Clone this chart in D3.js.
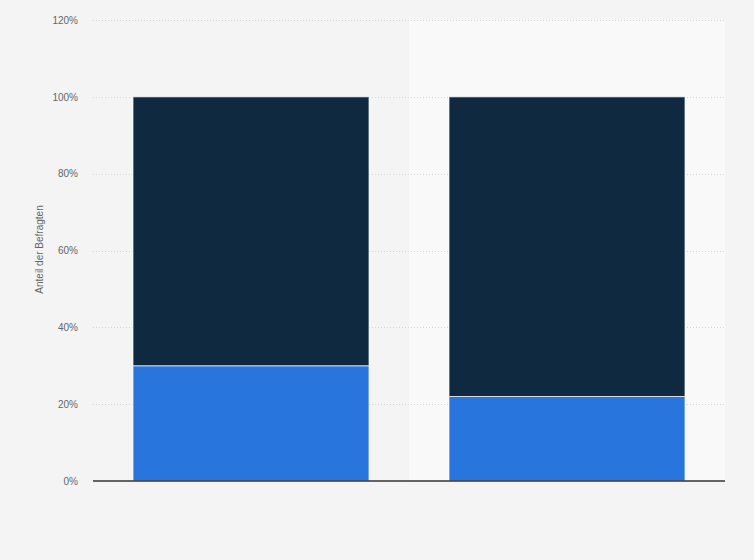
<!DOCTYPE html>
<html>
<head>
<meta charset="utf-8">
<script src="https://cdn.jsdelivr.net/npm/d3@7"></script>
<style>
  body { margin: 0; background: #f4f4f4; }
  svg { display: block; font-family: Arial, "Liberation Sans", sans-serif; }
  .axis text { fill: #666; font-size: 10px; }
</style>
</head>
<body>
<div class="chart"></div>
<script>
// data
const categories = ['A', 'B']
const seriesNames = ['Ja', 'Nein']
const bottomValues = [30, 22]
const topValues = [70, 78]
const tickValues = [0, 20, 40, 60, 80, 100, 120]
const seriesColors = ['#2876dd', '#0f2a40']

const svg_width = 754
const svg_height = 560
const margin = { top: 20, right: 29, bottom: 79, left: 93 }
const chart_width = svg_width - margin.left - margin.right
const chart_height = svg_height - margin.top - margin.bottom

const svg = d3.select('.chart').append('svg')
  .attr('width', svg_width).attr('height', svg_height)

const g = svg.append('g')
  .attr('transform', `translate(${margin.left}, ${margin.top})`)

const xScale = d3.scaleBand().domain(categories).range([0, chart_width])
  .paddingInner(0).paddingOuter(0)
const yScale = d3.scaleLinear([0, 120], [chart_height, 0])

// alternate band shading
g.append('g').selectAll('rect').data(categories).join('rect')
  .attr('x', d => xScale(d)).attr('y', 0)
  .attr('width', xScale.bandwidth()).attr('height', chart_height)
  .style('fill', (d, i) => i % 2 ? '#f9f9f9' : '#f4f4f4')

// grid lines
g.append('g').selectAll('line').data(tickValues.filter(d => d > 0)).join('line')
  .attr('x1', 0).attr('x2', chart_width)
  .attr('y1', d => Math.round(yScale(d)) + 0.5).attr('y2', d => Math.round(yScale(d)) + 0.5)
  .style('stroke', '#d6d6d6').style('stroke-dasharray', '1,2')

// stacked data
const rows = categories.map((c, i) => ({ cat: c, Ja: bottomValues[i], Nein: topValues[i] }))
const stack = d3.stack().keys(seriesNames)(rows)

const barPad = 40
g.append('g').selectAll('g').data(stack).join('g')
  .style('fill', (d, i) => seriesColors[i])
  .selectAll('rect').data(d => d).join('rect')
  .attr('x', d => xScale(d.data.cat) + barPad)
  .attr('width', xScale.bandwidth() - 2 * barPad)
  .attr('y', d => yScale(d[1]))
  .attr('height', d => yScale(d[0]) - yScale(d[1]))
  .style('stroke', 'rgba(255,255,255,0.7)').style('stroke-width', 1)

// y axis
const yAxis = d3.axisLeft(yScale).tickValues(tickValues)
  .tickFormat(d => d + '%').tickSize(0).tickPadding(15)
const yAxisDraw = g.append('g').attr('class', 'axis').call(yAxis)
yAxisDraw.select('.domain').remove()

// baseline
g.append('line')
  .attr('x1', 0).attr('x2', chart_width)
  .attr('y1', chart_height).attr('y2', chart_height)
  .style('stroke', '#333').style('stroke-width', 1.3)

// y label
svg.append('text')
  .attr('transform', `translate(43, ${margin.top + chart_height / 2 - 1}) rotate(-90)`)
  .attr('text-anchor', 'middle')
  .style('font-size', '10px').style('fill', '#666')
  .text('Anteil der Befragten')
</script>
</body>
</html>
